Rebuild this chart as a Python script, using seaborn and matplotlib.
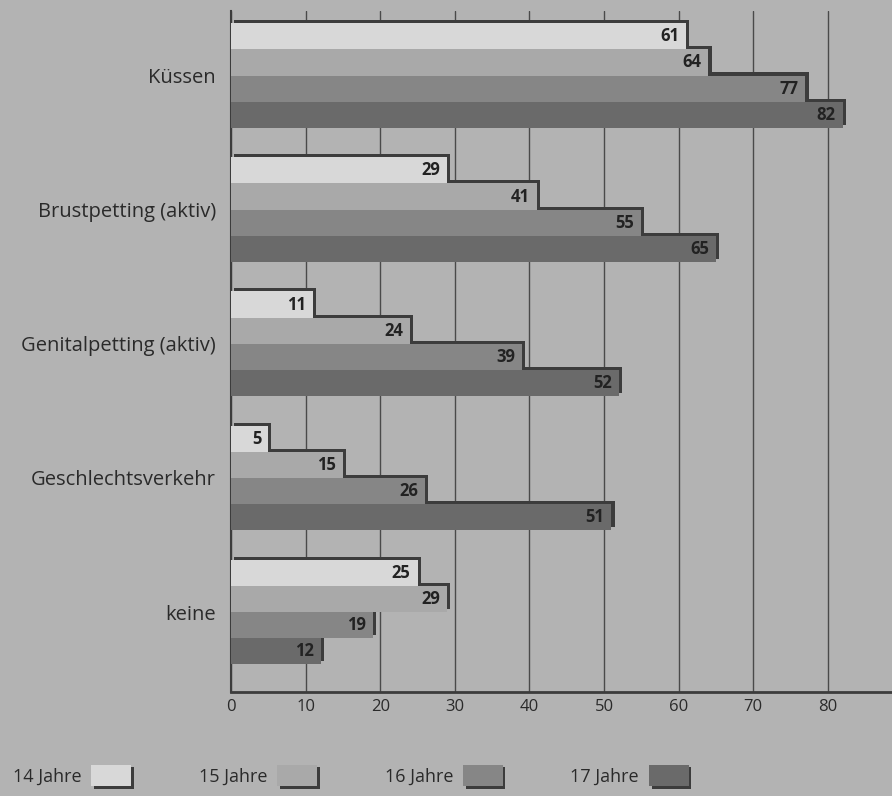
import pandas as pd
import seaborn as sns
import matplotlib.pyplot as plt
import matplotlib.patheffects as pe
from matplotlib.patches import Patch

# data (percent)
kategorien = ["Küssen", "Brustpetting (aktiv)", "Genitalpetting (aktiv)",
              "Geschlechtsverkehr", "keine"]
alter = ["14 Jahre", "15 Jahre", "16 Jahre", "17 Jahre"]
jahre14 = [61, 29, 11, 5, 25]
jahre15 = [64, 41, 24, 15, 29]
jahre16 = [77, 55, 39, 26, 19]
jahre17 = [82, 65, 52, 51, 12]
xticks = [0, 10, 20, 30, 40, 50, 60, 70, 80]

farben = ["#d8d8d8", "#a9a9a9", "#868686", "#6a6a6a"]
bg = "#b3b3b3"
dunkel = "#3c3c3c"

rows = []
for a, werte in zip(alter, [jahre14, jahre15, jahre16, jahre17]):
    for k, v in zip(kategorien, werte):
        rows.append({"Kategorie": k, "Alter": a, "Prozent": v})
df = pd.DataFrame(rows)

sns.set_theme(style="ticks")
plt.rcParams["font.family"] = ["Open Sans", "DejaVu Sans"]

fig = plt.figure(figsize=(8.92, 7.96), dpi=100, facecolor=bg)
ax = fig.add_axes([0.259, 0.1307, 0.741, 0.856])
ax.set_facecolor(bg)

sns.barplot(data=df, x="Prozent", y="Kategorie", hue="Alter", orient="h",
            order=kategorien, hue_order=alter, palette=farben, saturation=1,
            width=0.78, legend=False, ax=ax)

# upper bars lie over the lower ones, each with a dark step edge
for i, cont in enumerate(ax.containers):
    for bar in cont:
        bar.set_zorder(10 - i)
        bar.set_linewidth(0)
        bar.set_path_effects([
            pe.SimplePatchShadow(offset=(2.2, 2.2), shadow_rgbFace=dunkel, alpha=1),
            pe.Normal()])
        w = bar.get_width()
        y = bar.get_y() + bar.get_height() / 2
        ax.annotate(f"{w:.0f}", (w, y), xytext=(-5, 0), textcoords="offset points",
                    ha="right", va="center", fontsize=12, fontweight="bold",
                    color="#222222", zorder=20)

ax.set_xlim(0, 88.6)
ax.set_ylim(4.596, -0.484)
ax.set_xticks(xticks)
ax.grid(axis="x", color="#4a4a4a", linewidth=1)
ax.set_axisbelow(True)
for s in ["top", "right"]:
    ax.spines[s].set_visible(False)
ax.spines["left"].set_color(dunkel)
ax.spines["left"].set_linewidth(1.5)
ax.spines["bottom"].set_color(dunkel)
ax.spines["bottom"].set_linewidth(2)
ax.tick_params(axis="x", length=0, pad=5, labelsize=12, labelcolor="#2a2a2a")
ax.tick_params(axis="y", length=0, pad=11, labelsize=14.5, labelcolor="#2a2a2a")
ax.set_xlabel("")
ax.set_ylabel("")

handles = [Patch(facecolor=f, edgecolor="none",
                 path_effects=[pe.SimplePatchShadow(offset=(2, -2), shadow_rgbFace=dunkel, alpha=1),
                               pe.Normal()])
           for f in farben]
fig.legend(handles, alter, loc="center left", bbox_to_anchor=(-0.004, 0.026),
           ncol=4, frameon=False, markerfirst=False, fontsize=13,
           handlelength=2.2, handleheight=1.45, handletextpad=0.55,
           columnspacing=3.75, labelcolor="#2a2a2a")

fig.savefig("out.png", dpi=100, facecolor=bg)
